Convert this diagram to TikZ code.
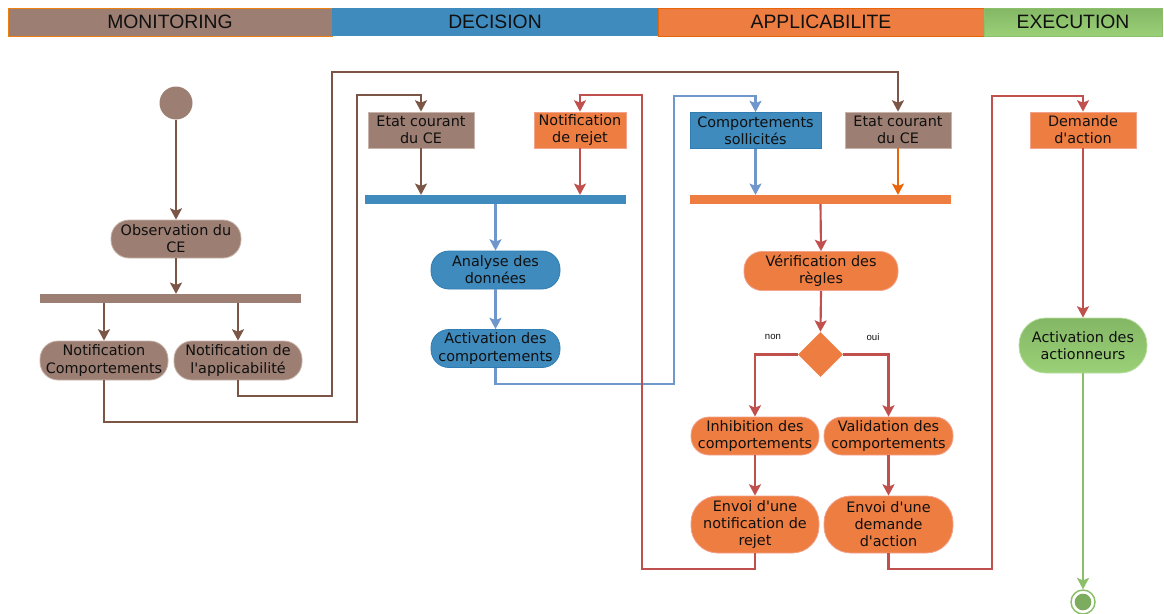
\documentclass[tikz,border=0pt]{standalone}
\usepackage{fontspec}
\setmainfont{DejaVu Sans}
\newfontfamily\hdfont{Liberation Sans}
\usetikzlibrary{arrows.meta,shapes.geometric}

\definecolor{brnFill}{HTML}{9C7E72}
\definecolor{brnEdge}{HTML}{C7B3AA}
\definecolor{brnLine}{HTML}{7B5646}
\definecolor{bluFill}{HTML}{3F8BBE}
\definecolor{bluEdge}{HTML}{2F7DB3}
\definecolor{bluLine}{HTML}{7097CB}
\definecolor{orgFill}{HTML}{EE7D42}
\definecolor{orgEdge}{HTML}{F2A38C}
\definecolor{orgLine}{HTML}{E8650A}
\definecolor{redLine}{HTML}{C0504D}
\definecolor{grnTop}{HTML}{84B765}
\definecolor{grnBot}{HTML}{9AD077}
\definecolor{grnLine}{HTML}{8CBF6A}
\definecolor{txt}{HTML}{101010}

\tikzset{
  lbl/.style={font=\fontsize{10.8}{12.8}\selectfont, text=txt, align=center, inner sep=0pt},
  pill/.style={lbl, rounded corners=13.5pt, minimum height=28.5pt, line width=0.6pt},
  tallpill/.style={lbl, rounded corners=20pt, minimum height=42.75pt, line width=0.6pt},
  obj/.style={lbl, rectangle, minimum width=79.5pt, minimum height=27pt, line width=0.6pt},
  bar/.style={rectangle, inner sep=0pt, minimum width=195.75pt, minimum height=6.5pt},
  brnN/.style={fill=brnFill, draw=brnEdge},
  bluN/.style={fill=bluFill, draw=bluEdge},
  orgN/.style={fill=orgFill, draw=orgEdge},
  flow/.style={line width=1.6pt, -{Stealth[length=8.5pt,width=9pt,inset=1.8pt]}},
  band/.style={rectangle, inner sep=0pt, minimum height=21pt, text=txt,
    font=\hdfont\fontsize{14.5}{16}\selectfont},
  guard/.style={font=\hdfont\fontsize{7.2}{8}\selectfont, text=txt, inner sep=0pt},
}

\begin{document}
\begin{tikzpicture}[x=0.75pt, y=-0.75pt]
  \useasboundingbox (0,0) rectangle (1164,614);

  % swimlane headings
  \node[band, fill=brnFill, draw=orange!70!brown, line width=0.35pt, minimum width=243pt] (hm) at (170,22) {MONITORING};
  \node[band, fill=bluFill, minimum width=244.5pt] (hd) at (495,22) {DECISION};
  \node[band, fill=orgFill, draw=orgLine, line width=0.35pt, minimum width=244.5pt] (ha) at (821,22) {APPLICABILITE};
  \node[band, top color=grnTop, bottom color=grnBot, draw=grnLine, line width=0.35pt, minimum width=133.5pt] (he) at (1073,22) {EXECUTION};

  % MONITORING
  \node[circle, fill=brnFill, inner sep=0pt, minimum size=24.75pt] (init) at (176,103) {};
  \node[pill, brnN, minimum width=97.5pt] (obs) at (176,239) {Observation du\\CE};
  \node[bar, fill=brnFill] (bar1) at (170,298.5) {};
  \node[pill, brnN, minimum width=96pt, minimum height=29.25pt] (nc) at (104,360.5) {Notification\\Comportements};
  \node[pill, brnN, minimum width=96pt, minimum height=29.25pt] (na) at (238,360.5) {Notification de\\l\textquotesingle applicabilité};

  % DECISION
  \node[obj, brnN] (ec1) at (421,130) {Etat courant\\du CE};
  \node[obj, orgN, minimum width=69pt] (nr) at (580,130) {Notification\\de rejet};
  \node[bar, fill=bluFill] (bar2) at (495.5,199.5) {};
  \node[pill, bluN, minimum width=96.75pt] (ad) at (495.5,270) {Analyse des\\données};
  \node[pill, bluN, minimum width=96.75pt] (ac) at (495.5,348.5) {Activation des\\comportements};

  % APPLICABILITE
  \node[obj, bluN, minimum width=98.25pt] (cs) at (755.5,130.5) {Comportements\\sollicités};
  \node[obj, brnN] (ec2) at (898,130) {Etat courant\\du CE};
  \node[bar, fill=orgFill] (bar3) at (820.5,199.5) {};
  \node[pill, orgN, minimum width=115.5pt, minimum height=29.25pt] (vr) at (821,271) {Vérification des\\règles};
  \node[diamond, fill=orgFill, inner sep=0pt, minimum width=33.75pt, minimum height=33.75pt] (dm) at (820.5,354.5) {};
  \node[guard] (gnon) at (773,337) {non};
  \node[guard] (goui) at (873,337) {oui};
  \node[pill, orgN, minimum width=96pt] (ib) at (755,436) {Inhibition des\\comportements};
  \node[pill, orgN, minimum width=96.75pt] (vd) at (888.5,436) {Validation des\\comportements};
  \node[tallpill, orgN, minimum width=96pt] (en1) at (755,524.5) {Envoi d\textquotesingle une\\notification de\\rejet};
  \node[tallpill, orgN, minimum width=96.75pt] (en2) at (888.5,524.5) {Envoi d\textquotesingle une\\demande\\d\textquotesingle action};

  % EXECUTION
  \node[obj, orgN] (da) at (1083,130) {Demande\\d\textquotesingle action};
  \node[lbl, rounded corners=20pt, minimum width=96pt, minimum height=41.25pt,
        top color=grnTop, bottom color=grnBot, draw=grnBot!70!white, line width=0.6pt] (aa) at (1083,345.5) {Activation des\\actionneurs};
  \node[circle, draw=grnLine, line width=1.1pt, fill=white, inner sep=0pt, minimum size=18pt] (fin) at (1083,602) {};
  \node[circle, fill=grnLine!90!black, inner sep=0pt, minimum size=12.5pt] (finc) at (fin.center) {};

  % monitoring flows
  \draw[flow, brnLine] (init.south) -- (obs.north);
  \draw[flow, brnLine] (obs.south) -- (obs.south |- bar1.north);
  \draw[flow, brnLine] (nc.north |- bar1.south) -- (nc.north);
  \draw[flow, brnLine] (na.north |- bar1.south) -- (na.north);
  \draw[flow, brnLine] (nc.south) |- (357,422) -- (357,95) -| (ec1.north);
  \draw[flow, brnLine] (na.south) |- (332,396) -- (332,72) -| (ec2.north);

  % decision flows
  \draw[flow, brnLine] (ec1.south) -- (ec1.south |- bar2.north);
  \draw[flow, redLine] (nr.south) -- (nr.south |- bar2.north);
  \draw[flow, bluLine] (bar2.south) -- (ad.north);
  \draw[flow, bluLine] (ad.south) -- (ac.north);
  \draw[flow, bluLine] (ac.south) |- (674,384) -- (674,96) -| (cs.north);

  % applicability flows
  \draw[flow, bluLine] (cs.south) -- (cs.south |- bar3.north);
  \draw[flow, orgLine] (ec2.south) -- (ec2.south |- bar3.north);
  \draw[flow, redLine] (bar3.south) -- (vr.north);
  \draw[flow, redLine] (vr.south) -- (dm.north);
  \draw[flow, redLine] (dm.west) -| (ib.north);
  \draw[flow, redLine] (dm.east) -| (vd.north);
  \draw[flow, redLine] (ib.south) -- (en1.north);
  \draw[flow, redLine] (vd.south) -- (en2.north);
  \draw[flow, redLine] (en1.south) |- (642,569) -- (642,95) -| (nr.north);
  \draw[flow, redLine] (en2.south) |- (992,569) -- (992,96) -| (da.north);

  % execution flows
  \draw[flow, redLine] (da.south) -- (aa.north);
  \draw[flow, grnLine] (aa.south) -- (fin.north);
\end{tikzpicture}
\end{document}
